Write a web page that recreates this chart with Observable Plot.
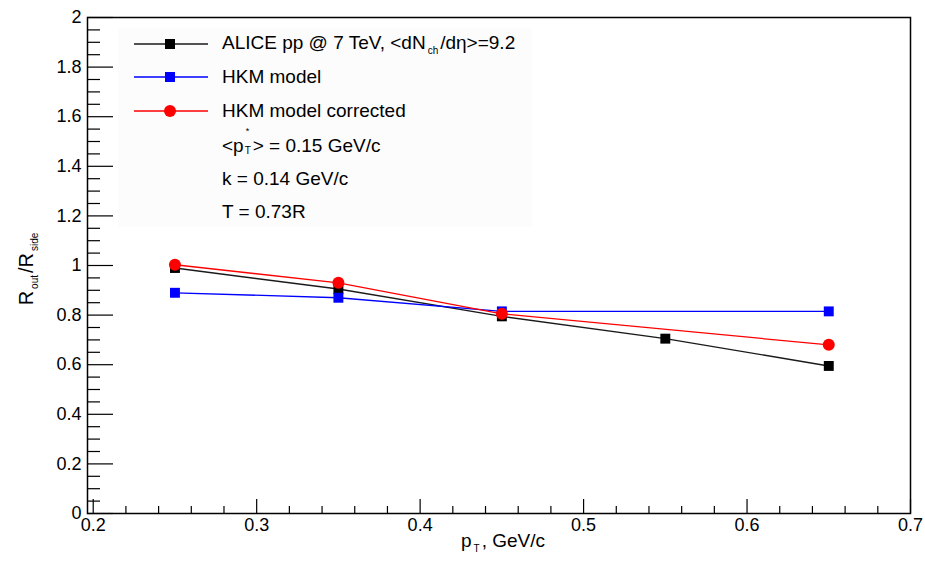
<!DOCTYPE html>
<html>
<head>
<meta charset="utf-8">
<script src="https://cdn.jsdelivr.net/npm/d3@7"></script>
<script src="https://cdn.jsdelivr.net/npm/@observablehq/plot@0.6"></script>
<style>
  html, body { margin: 0; padding: 0; background: #fff; }
  #wrap { position: relative; width: 925px; height: 562px; font-family: "Liberation Sans", Arial, Helvetica, sans-serif; color: #000; }
  #chart { position: absolute; left: 0; top: 0; }
  .legend-bg { position: absolute; left: 118px; top: 28px; width: 414px; height: 199px; background: #fcfcfc; }
  .legend { position: absolute; left: 0; top: 0; }
  .row { position: absolute; left: 134px; height: 34px; display: flex; align-items: center; font-size: 19px; white-space: nowrap; }
  .row svg { margin-right: 14px; }
  .row.text { left: 222px; }
  sub.s { font-size: 10px; vertical-align: -5px; margin: 0 2px; }
  .xlabel { position: absolute; left: 0; width: 1006px; top: 530px; text-align: center; font-size: 19px; }
  .ylabel { position: absolute; left: 27px; top: 268px; transform: translate(-50%, -50%) rotate(-90deg); font-size: 20px; white-space: nowrap; }
  .stack { display: inline-block; position: relative; width: 9px; height: 1em; }
  .stack .sup { position: absolute; left: 2px; top: -7px; font-size: 9px; }
  .stack .sub { position: absolute; left: 1px; top: 12px; font-size: 10px; }
</style>
</head>
<body>
<div id="wrap">
  <div class="legend-bg"></div>
  <div id="chart"></div>
  <div id="legend" class="legend"></div>
  <div class="xlabel">p<sub class="s">T</sub>, GeV/c</div>
  <div class="ylabel">R<sub class="s">out</sub>/R<sub class="s">side</sub></div>
</div>
<script>
// ---- data ----
const aliceX = [0.25, 0.35, 0.45, 0.55, 0.65];
const aliceY = [0.99, 0.905, 0.795, 0.705, 0.595];
const hkmX = [0.25, 0.35, 0.45, 0.65];
const hkmY = [0.89, 0.87, 0.815, 0.815];
const corrX = [0.25, 0.35, 0.45, 0.65];
const corrY = [1.003, 0.93, 0.805, 0.68];

const seriesNames = ["ALICE pp @ 7 TeV, <dN_ch/dη>=9.2", "HKM model", "HKM model corrected"];
const seriesColors = ["#1a1a1a", "#0000ff", "#ff0000"];
const noteLines = ["<pT*> = 0.15 GeV/c", "k = 0.14 GeV/c", "T = 0.73R"];

const xMajor = [0.2, 0.3, 0.4, 0.5, 0.6, 0.7];
const xMinor = [0.22, 0.24, 0.26, 0.28, 0.32, 0.34, 0.36, 0.38, 0.42, 0.44, 0.46, 0.48, 0.52, 0.54, 0.56, 0.58, 0.62, 0.64, 0.66, 0.68];
const yMajor = [0, 0.2, 0.4, 0.6, 0.8, 1, 1.2, 1.4, 1.6, 1.8, 2];
const yMinor = [0.05, 0.1, 0.15, 0.25, 0.3, 0.35, 0.45, 0.5, 0.55, 0.65, 0.7, 0.75, 0.85, 0.9, 0.95, 1.05, 1.1, 1.15, 1.25, 1.3, 1.35, 1.45, 1.5, 1.55, 1.65, 1.7, 1.75, 1.85, 1.9, 1.95];

// ---- tables ----
const alice = aliceX.map((x, i) => ({x, y: aliceY[i]}));
const hkm = hkmX.map((x, i) => ({x, y: hkmY[i]}));
const corr = corrX.map((x, i) => ({x, y: corrY[i]}));

const fmt = d => String(+d.toFixed(2));

const chart = Plot.plot({
  width: 925,
  height: 562,
  marginLeft: 87,
  marginRight: 15,
  marginTop: 17,
  marginBottom: 49,
  style: {fontFamily: "'Liberation Sans', Arial, Helvetica, sans-serif", fontSize: "18px", background: "transparent", color: "#000"},
  x: {domain: [0.1965, 0.7]},
  y: {domain: [0, 2]},
  marks: [
    Plot.axisX(xMajor, {tickSize: 0, tickPadding: 5, tickFormat: fmt, fontSize: 18, label: null}),
    Plot.axisX(xMinor, {tickSize: -7, text: null, label: null, strokeWidth: 1.2}),
    Plot.axisX(xMajor, {tickSize: -14, text: null, label: null, strokeWidth: 1.2}),
    Plot.axisY(yMajor, {tickSize: 0, tickPadding: 6, tickFormat: fmt, fontSize: 18, label: null}),
    Plot.axisY(yMinor, {tickSize: -13, text: null, label: null, strokeWidth: 1.2}),
    Plot.axisY(yMajor, {tickSize: -26, text: null, label: null, strokeWidth: 1.2}),
    Plot.frame({stroke: "#000", strokeWidth: 1.5}),
    Plot.line(alice, {x: "x", y: "y", stroke: seriesColors[0], strokeWidth: 1.4}),
    Plot.dot(alice, {x: "x", y: "y", symbol: "square", r: 5.6, fill: "#000", stroke: "none"}),
    Plot.line(hkm, {x: "x", y: "y", stroke: seriesColors[1], strokeWidth: 1.3}),
    Plot.dot(hkm, {x: "x", y: "y", symbol: "square", r: 5.6, fill: "#0000ff", stroke: "none"}),
    Plot.line(corr, {x: "x", y: "y", stroke: seriesColors[2], strokeWidth: 1.3}),
    Plot.dot(corr, {x: "x", y: "y", symbol: "circle", r: 6, fill: "#ff0000", stroke: "none"})
  ]
});
document.getElementById("chart").appendChild(chart);

// ---- legend ----
const legend = document.getElementById("legend");
const rowTops = [27, 60, 94, 128, 162, 195];
const markerSvg = (i) => {
  const c = seriesColors[i];
  const m = i === 2
    ? `<circle cx="36" cy="8" r="6" fill="#ff0000"/>`
    : `<rect x="31" y="3" width="10" height="10" fill="${i === 0 ? "#000" : c}"/>`;
  return `<svg width="74" height="16"><line x1="0" y1="8" x2="74" y2="8" stroke="${c}" stroke-width="1.4"/>${m}</svg>`;
};
const esc = s => s.replace(/&/g, "&amp;").replace(/</g, "&lt;").replace(/>/g, "&gt;");
const richName = (s) => esc(s).replace("dN_ch", 'dN<sub class="s">ch</sub>');
seriesNames.forEach((name, i) => {
  const div = document.createElement("div");
  div.className = "row";
  div.style.top = rowTops[i] + "px";
  div.innerHTML = markerSvg(i) + "<span>" + richName(name) + "</span>";
  legend.appendChild(div);
});
noteLines.forEach((t, j) => {
  const div = document.createElement("div");
  div.className = "row text";
  div.style.top = rowTops[3 + j] + "px";
  let html = esc(t);
  html = html.replace("pT*", 'p<span class="stack"><span class="sup">*</span><span class="sub">T</span></span>');
  div.innerHTML = "<span>" + html + "</span>";
  legend.appendChild(div);
});
</script>
</body>
</html>
